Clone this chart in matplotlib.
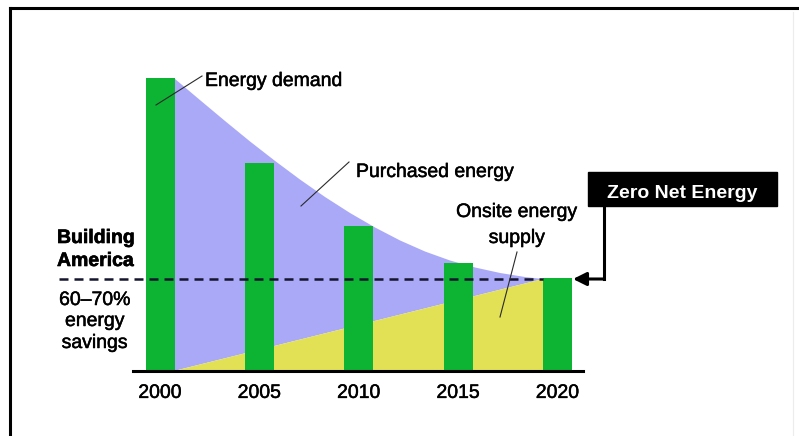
import matplotlib
matplotlib.use('Agg')
import matplotlib.pyplot as plt
import matplotlib.patheffects as pe
from matplotlib.lines import Line2D
from matplotlib.patches import Rectangle, FancyArrowPatch
from matplotlib.transforms import Affine2D

# Data (relative energy, demand in 2000 = 100)
years = [2000, 2005, 2010, 2015, 2020]
year_labels = ['2000', '2005', '2010', '2015', '2020']
bar_values = [100, 71, 49.5, 36.9, 31.7]

demand_years = [2000.70, 2002.01, 2003.27, 2004.53, 2005.79, 2007.04, 2008.30, 2009.56,
                2010.82, 2012.08, 2013.33, 2014.59, 2015.85, 2017.11, 2018.36, 2019.27]
demand_values = [100.0, 92.5, 85.35, 78.35, 71.7, 65.38, 59.41, 53.94,
                 48.99, 44.55, 40.8, 37.73, 35.34, 33.46, 32.09, 31.41]

supply_years = [2000.70, 2019.27]
supply_values = [0.0, 31.41]

target_level = 31.41   # Building America 60-70% savings line

GREEN = '#0db333'
BLUE = '#a9a9f8'
YELLOW = '#e2e156'
DARK = '#15152e'

plt.rcParams['font.family'] = ['Liberation Sans', 'DejaVu Sans']
# slightly heavier text, like the reference
HEAVY = [pe.withStroke(linewidth=0.35, foreground='black')]
HEAVY_BOLD = [pe.withStroke(linewidth=0.45, foreground='black')]

W, H = 799, 436
fig = plt.figure(figsize=(W / 100, H / 100), dpi=100)
fig.patch.set_facecolor('white')
# pixel coordinates, origin top-left
PX = Affine2D().scale(1 / W, -1 / H).translate(0, 1) + fig.transFigure

ax = fig.add_axes([133 / W, 65 / H, 450 / W, 331 / H])
ax.set_xlim(1998.64, 2021.28)
ax.set_ylim(0, 113)
ax.set_facecolor('none')

# purchased energy (between demand curve and onsite supply)
ax.fill(demand_years + [supply_years[0]], demand_values + [supply_values[0]],
        color=BLUE, lw=0, zorder=1)
# onsite supply
ax.fill(supply_years + [supply_years[-1]], supply_values + [0],
        color=YELLOW, lw=0, zorder=1)

ax.bar(years, bar_values, width=1.46, color=GREEN, zorder=2)

ax.plot([1994.92, supply_years[-1]], [target_level, target_level], color=DARK,
        lw=1.8, linestyle=(0, (3.6, 2.4)), zorder=3, clip_on=False)

for s in ['top', 'right', 'left']:
    ax.spines[s].set_visible(False)
ax.spines['bottom'].set_linewidth(2.2)
ax.spines['bottom'].set_zorder(4)
ax.set_yticks([])
ax.set_xticks(years)
ax.set_xticklabels(year_labels, fontsize=14)
for lbl in ax.get_xticklabels():
    lbl.set_path_effects(HEAVY)
ax.tick_params(axis='x', length=0, pad=10)

# outer frame
fig.add_artist(Line2D([10, 799], [8, 8], transform=PX, color='black', lw=2.2))
fig.add_artist(Line2D([10, 10], [8, 436], transform=PX, color='black', lw=2.2))
fig.add_artist(Line2D([793, 793], [12, 436], transform=PX, color='#ececec', lw=0.8))

# labels and leader lines
def leader(x0, y0, x1, y1):
    fig.add_artist(Line2D([x0, x1], [y0, y1], transform=PX, color='#2a2a2a', lw=0.8, zorder=5))

def label(x, y, s, ha='left'):
    fig.text(x, y, s, transform=PX, fontsize=14, va='baseline', ha=ha, path_effects=HEAVY)

label(205, 86, 'Energy demand')
leader(156, 105, 202, 76)

label(356, 177, 'Purchased energy')
leader(349, 162, 301, 206)

label(517, 217, 'Onsite energy', ha='center')
label(517, 243, 'supply', ha='center')
leader(517, 252, 500, 317)

fig.text(57, 243, 'Building', transform=PX, fontsize=14, fontweight='bold', va='baseline',
         path_effects=HEAVY_BOLD)
fig.text(57, 266, 'America', transform=PX, fontsize=14, fontweight='bold', va='baseline',
         path_effects=HEAVY_BOLD)

label(95, 305, '60–70%', ha='center')
label(95, 326, 'energy', ha='center')
label(95, 348, 'savings', ha='center')

# Zero Net Energy box and arrow
fig.add_artist(Rectangle((588, 172), 189, 34, transform=PX, color='black', zorder=5))
fig.text(682, 198, 'Zero Net Energy', transform=PX, fontsize=14, fontweight='bold',
         color='white', va='baseline', ha='center', zorder=6)
fig.add_artist(Line2D([604, 604], [206, 279], transform=PX, color='black', lw=2.2,
                      solid_capstyle='projecting'))
fig.add_artist(FancyArrowPatch((604, 279), (573, 279), transform=PX,
                               arrowstyle='-|>,head_length=8,head_width=4',
                               mutation_scale=1, lw=2.2, color='black',
                               shrinkA=0, shrinkB=0))

fig.savefig('out.png', dpi=100)
